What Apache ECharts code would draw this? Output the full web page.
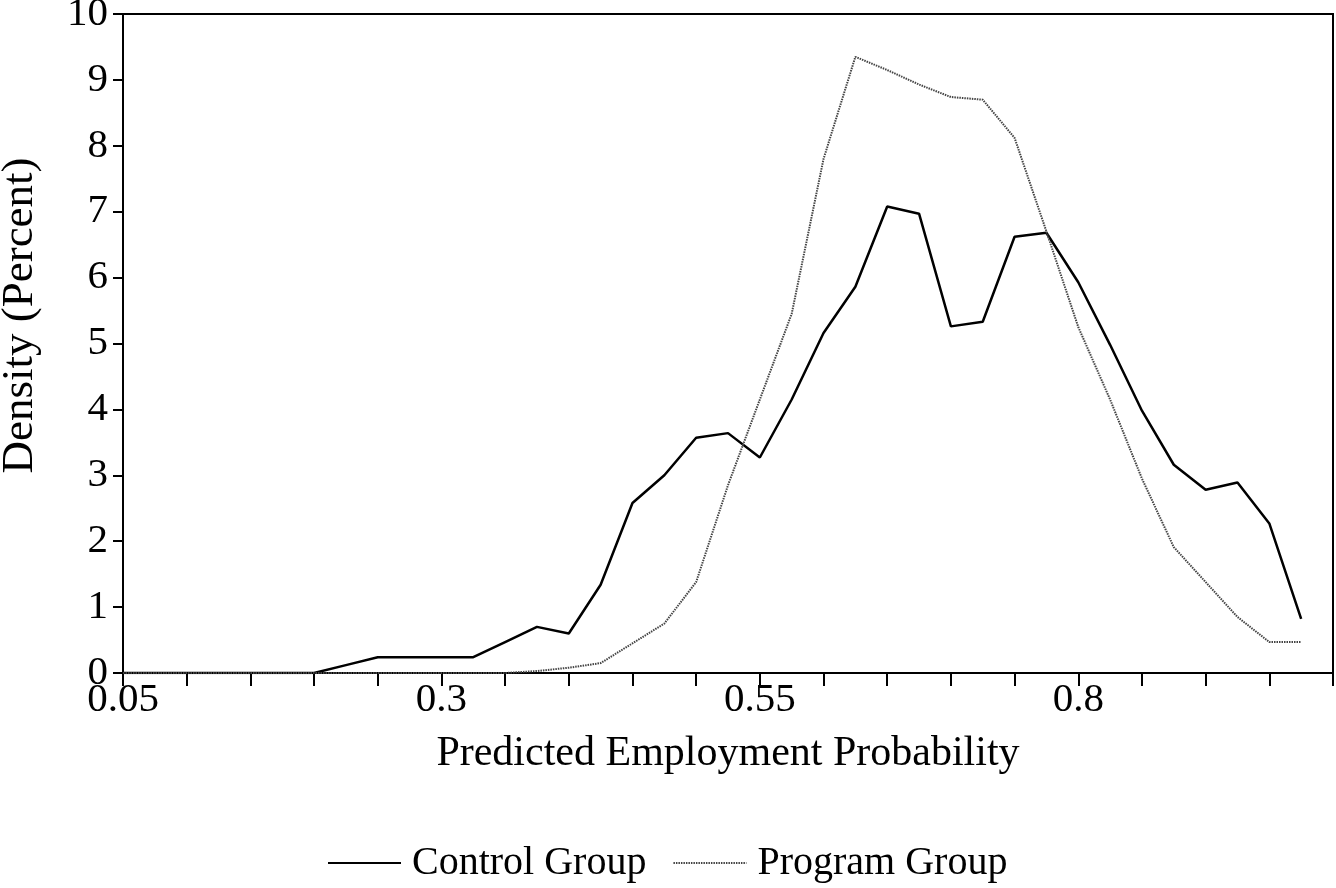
<!DOCTYPE html>
<html>
<head>
<meta charset="utf-8">
<script src="https://cdn.jsdelivr.net/npm/echarts@6/dist/echarts.min.js"></script>
<style>
html,body{margin:0;padding:0;background:#fff;}
#chart{width:1336px;height:888px;}
</style>
</head>
<body>
<div id="chart"></div>
<script>
var xValues = [0.05,0.075,0.1,0.125,0.15,0.175,0.2,0.225,0.25,0.275,0.3,0.325,0.35,0.375,0.4,0.425,0.45,0.475,0.5,0.525,0.55,0.575,0.6,0.625,0.65,0.675,0.7,0.725,0.75,0.775,0.8,0.825,0.85,0.875,0.9,0.925,0.95,0.975];
var controlGroup = [0,0,0,0,0,0,0,0.12,0.24,0.24,0.24,0.24,0.47,0.70,0.60,1.34,2.58,3.00,3.57,3.64,3.27,4.15,5.16,5.86,7.08,6.97,5.26,5.33,6.62,6.68,5.93,4.98,3.98,3.16,2.78,2.89,2.27,0.82];
var programGroup = [0,0,0,0,0,0,0,0,0,0,0,0,0,0.03,0.08,0.15,0.45,0.75,1.38,2.85,4.15,5.45,7.80,9.35,9.15,8.93,8.74,8.70,8.12,6.70,5.25,4.15,2.95,1.91,1.38,0.85,0.47,0.47];
var xTickLabels = ['0.05','0.3','0.55','0.8'];
var seriesNames = ['Control Group','Program Group'];

function pairs(ys){ return xValues.map(function(x,i){ return [x, ys[i]]; }); }

var FONT = '"Liberation Serif", "DejaVu Serif", serif';
var chart = echarts.init(document.getElementById('chart'));
chart.setOption({
  animation: false,
  backgroundColor: '#fff',
  grid: {left: 123, right: 3, top: 14, bottom: 215, outerBoundsMode: 'none', containLabel: false,
         show: true, borderColor: '#000', borderWidth: 2, backgroundColor: 'transparent'},
  xAxis: {
    type: 'value', min: 0.05, max: 1.0, interval: 0.05,
    name: 'Predicted Employment Probability', nameLocation: 'middle', nameGap: 60,
    nameTextStyle: {fontFamily: FONT, fontSize: 42, color: '#000'},
    axisLine: {lineStyle: {color: '#000', width: 2}},
    axisTick: {show: true, inside: false, length: 13, lineStyle: {color: '#000', width: 2}},
    splitLine: {show: false},
    axisLabel: {
      fontFamily: FONT, fontSize: 41, color: '#000', margin: 7, showMaxLabel: true,
      formatter: function(v){
        var k = Math.round((v - 0.05) * 100);
        if (k % 25 === 0) { var idx = k / 25; return xTickLabels[idx] || ''; }
        return '';
      }
    }
  },
  yAxis: {
    type: 'value', min: 0, max: 10, interval: 1,
    name: 'Density (Percent)', nameLocation: 'middle', nameGap: 80, nameRotate: 90,
    nameTextStyle: {fontFamily: FONT, fontSize: 45, color: '#000', padding: [0, 0, 0, 56]},
    axisLine: {show: true, lineStyle: {color: '#000', width: 2}},
    axisTick: {show: true, inside: false, length: 10, lineStyle: {color: '#000', width: 2}},
    splitLine: {show: false},
    axisLabel: {fontFamily: FONT, fontSize: 41, color: '#000', margin: 15}
  },
  legend: {
    bottom: 0, left: 322, itemWidth: 73, itemHeight: 20, itemGap: 26,
    itemStyle: {opacity: 0},
    textStyle: {fontFamily: FONT, fontSize: 40, color: '#000', padding: [0,0,0,6]},
    data: seriesNames
  },
  series: [
    {name: seriesNames[0], type: 'line', data: pairs(controlGroup), symbol: 'none', color: '#000',
     lineStyle: {color: '#000', width: 2.5, type: 'solid'}},
    {name: seriesNames[1], type: 'line', data: pairs(programGroup), symbol: 'none', color: '#444',
     lineStyle: {color: '#444', width: 2, type: [1.5, 1]}}
  ]
});
</script>
</body>
</html>
